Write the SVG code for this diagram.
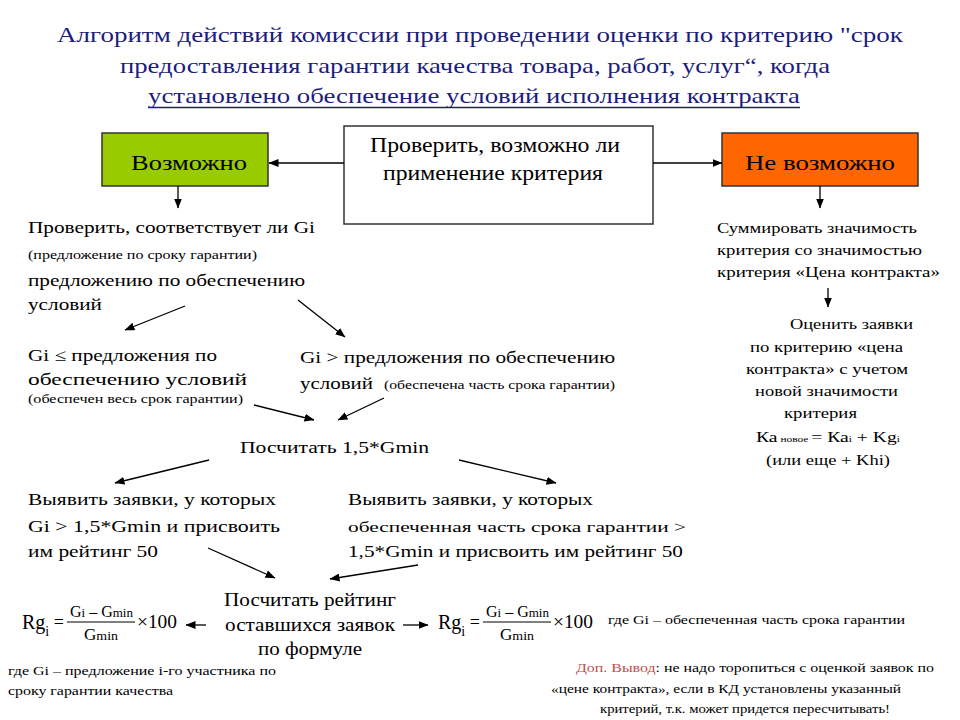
<svg xmlns="http://www.w3.org/2000/svg" width="960" height="720" viewBox="0 0 960 720">
<defs>
<marker id="ah" markerUnits="userSpaceOnUse" markerWidth="10" markerHeight="8" refX="9.5" refY="4" orient="auto">
<path d="M0,0 L10,4 L0,8 z" fill="#000"/>
</marker>
<style>
text{font-family:"Liberation Serif","DejaVu Serif",serif;fill:#000}
.title{font-size:22px;fill:#1c1c7e}
.box{font-size:20px}
.t19{font-size:17px}
.t17{font-size:15.5px}
.t13{font-size:12px}
.t14{font-size:12.5px}
.t15{font-size:13.5px}
.t20{font-size:18px}
.conn line{stroke:#000;stroke-width:1.3;marker-end:url(#ah)}
</style>
</defs>
<rect width="960" height="720" fill="#fff"/>

<g id="title">
<text class="title" x="57" y="42" textLength="846" lengthAdjust="spacingAndGlyphs">Алгоритм действий комиссии при проведении оценки по критерию "срок</text>
<text class="title" x="120" y="73" textLength="710" lengthAdjust="spacingAndGlyphs">предоставления гарантии качества товара, работ, услуг“, когда</text>
<text class="title" x="148" y="103" textLength="652" lengthAdjust="spacingAndGlyphs">установлено обеспечение условий исполнения контракта</text>
<line x1="148" y1="107.5" x2="800" y2="107.5" stroke="#1c1c7e" stroke-width="1.5"/>
</g>

<g id="check">
<rect x="344" y="126" width="309" height="98" fill="#fff" stroke="#333" stroke-width="1.5"/>
<text class="box" x="370" y="152" textLength="250" lengthAdjust="spacingAndGlyphs">Проверить, возможно ли</text>
<text class="box" x="383" y="180" textLength="220" lengthAdjust="spacingAndGlyphs">применение критерия</text>
</g>

<g id="possible">
<rect x="102" y="133" width="166" height="53" fill="#99cc00" stroke="#333" stroke-width="1.5"/>
<text class="box" x="131" y="170" font-size="21" textLength="116" lengthAdjust="spacingAndGlyphs">Возможно</text>
</g>

<g id="impossible">
<rect x="722" y="133" width="196" height="53" fill="#ff6600" stroke="#333" stroke-width="1.5"/>
<text class="box" x="745" y="170" font-size="21" textLength="150" lengthAdjust="spacingAndGlyphs" fill="#2a0a00">Не возможно</text>
</g>

<g id="check-gi">
<text class="t19" x="28" y="233" textLength="287" lengthAdjust="spacingAndGlyphs">Проверить, соответствует ли Gi</text>
<text class="t13" x="28" y="259" textLength="229" lengthAdjust="spacingAndGlyphs">(предложение по сроку гарантии)</text>
<text class="t19" x="28" y="286" textLength="277" lengthAdjust="spacingAndGlyphs">предложению по обеспечению</text>
<text class="t19" x="28" y="310" textLength="74" lengthAdjust="spacingAndGlyphs">условий</text>
</g>

<g id="sum">
<text class="t17" x="717" y="233" textLength="200" lengthAdjust="spacingAndGlyphs">Суммировать значимость</text>
<text class="t17" x="717" y="255" textLength="205" lengthAdjust="spacingAndGlyphs">критерия со значимостью</text>
<text class="t17" x="717" y="277" textLength="223" lengthAdjust="spacingAndGlyphs">критерия «Цена контракта»</text>
</g>

<g id="evaluate">
<text class="t17" x="790" y="329" textLength="123" lengthAdjust="spacingAndGlyphs">Оценить заявки</text>
<text class="t17" x="750" y="352" textLength="153" lengthAdjust="spacingAndGlyphs">по критерию «цена</text>
<text class="t17" x="746" y="374" textLength="162" lengthAdjust="spacingAndGlyphs">контракта» с учетом</text>
<text class="t17" x="755" y="396" textLength="143" lengthAdjust="spacingAndGlyphs">новой значимости</text>
<text class="t17" x="784" y="418" textLength="73" lengthAdjust="spacingAndGlyphs">критерия</text>
<text class="t17" x="756" y="442" textLength="144" lengthAdjust="spacingAndGlyphs">Ка<tspan font-size="9"> новое </tspan>= Ка<tspan font-size="9">i</tspan> + Kg<tspan font-size="9">i</tspan></text>
<text class="t17" x="766" y="465" textLength="124" lengthAdjust="spacingAndGlyphs">(или еще + Khi)</text>
</g>

<g id="gi-le">
<text class="t19" x="28" y="361" textLength="189" lengthAdjust="spacingAndGlyphs">Gi ≤ предложения по</text>
<text class="t19" x="28" y="385" textLength="219" lengthAdjust="spacingAndGlyphs">обеспечению условий</text>
<text class="t13" x="28" y="403" textLength="215" lengthAdjust="spacingAndGlyphs">(обеспечен весь срок гарантии)</text>
</g>

<g id="gi-gt">
<text class="t19" x="300" y="363" textLength="315" lengthAdjust="spacingAndGlyphs">Gi &gt; предложения по обеспечению</text>
<text class="t19" x="300" y="389" textLength="73" lengthAdjust="spacingAndGlyphs">условий</text>
<text class="t13" x="384" y="389" textLength="231" lengthAdjust="spacingAndGlyphs">(обеспечена часть срока гарантии)</text>
</g>

<g id="calc-gmin">
<text class="t19" x="240" y="453" textLength="189" lengthAdjust="spacingAndGlyphs">Посчитать 1,5*Gmin</text>
</g>

<g id="find-left">
<text class="t19" x="28" y="505" textLength="248" lengthAdjust="spacingAndGlyphs">Выявить заявки, у которых</text>
<text class="t19" x="28" y="532" textLength="252" lengthAdjust="spacingAndGlyphs">Gi &gt; 1,5*Gmin и присвоить</text>
<text class="t19" x="28" y="557" textLength="130" lengthAdjust="spacingAndGlyphs">им рейтинг 50</text>
</g>

<g id="find-right">
<text class="t19" x="348" y="505" textLength="245" lengthAdjust="spacingAndGlyphs">Выявить заявки, у которых</text>
<text class="t17" x="348" y="532" textLength="338" lengthAdjust="spacingAndGlyphs">обеспеченная часть срока гарантии &gt;</text>
<text class="t19" x="348" y="557" textLength="335" lengthAdjust="spacingAndGlyphs">1,5*Gmin и присвоить им рейтинг 50</text>
</g>

<g id="calc-rating">
<text class="t20" x="310" y="606" text-anchor="middle" textLength="172" lengthAdjust="spacingAndGlyphs">Посчитать рейтинг</text>
<text class="t20" x="310" y="631" text-anchor="middle" textLength="170" lengthAdjust="spacingAndGlyphs">оставшихся заявок</text>
<text class="t20" x="310" y="655" text-anchor="middle" textLength="104" lengthAdjust="spacingAndGlyphs">по формуле</text>
</g>

<g id="formula-left">
<text x="22" y="629" font-size="20">Rg<tspan dy="7" font-size="14">i</tspan><tspan dy="-8" font-size="18"> =</tspan></text>
<line x1="67" y1="622" x2="135" y2="622" stroke="#000" stroke-width="1"/>
<text x="70" y="617" font-size="16" textLength="63" lengthAdjust="spacingAndGlyphs">G<tspan font-size="13">i</tspan> – G<tspan font-size="13">min</tspan></text>
<text x="84" y="640" font-size="16" textLength="34" lengthAdjust="spacingAndGlyphs">G<tspan font-size="13">min</tspan></text>
<text x="137" y="628" font-size="19" textLength="40" lengthAdjust="spacingAndGlyphs">×100</text>
</g>

<g id="formula-right">
<text x="438" y="629" font-size="20">Rg<tspan dy="7" font-size="14">i</tspan><tspan dy="-8" font-size="18"> =</tspan></text>
<line x1="483" y1="622" x2="551" y2="622" stroke="#000" stroke-width="1"/>
<text x="486" y="617" font-size="16" textLength="63" lengthAdjust="spacingAndGlyphs">G<tspan font-size="13">i</tspan> – G<tspan font-size="13">min</tspan></text>
<text x="500" y="640" font-size="16" textLength="34" lengthAdjust="spacingAndGlyphs">G<tspan font-size="13">min</tspan></text>
<text x="553" y="628" font-size="19" textLength="40" lengthAdjust="spacingAndGlyphs">×100</text>
</g>

<g id="note-right">
<text class="t14" x="608" y="624" textLength="297" lengthAdjust="spacingAndGlyphs">где Gi – обеспеченная часть срока гарантии</text>
</g>

<g id="note-left">
<text class="t14" x="8" y="675" textLength="268" lengthAdjust="spacingAndGlyphs">где Gi – предложение i-го участника по</text>
<text class="t14" x="8" y="695" textLength="165" lengthAdjust="spacingAndGlyphs">сроку гарантии качества</text>
</g>

<g id="conclusion">
<text class="t15" x="576" y="672" textLength="358" lengthAdjust="spacingAndGlyphs"><tspan fill="#c0504d">Доп. Вывод</tspan>: не надо торопиться с оценкой заявок по</text>
<text class="t15" x="551" y="693" textLength="350" lengthAdjust="spacingAndGlyphs">«цене контракта», если в КД установлены указанный</text>
<text class="t15" x="745" y="713" text-anchor="middle" textLength="290" lengthAdjust="spacingAndGlyphs">критерий, т.к. может придется пересчитывать!</text>
</g>

<g id="connectors" class="conn">
<line x1="344" y1="163" x2="269" y2="163"/>
<line x1="653" y1="163" x2="722" y2="163"/>
<line x1="178" y1="186" x2="178" y2="208"/>
<line x1="820" y1="186" x2="820" y2="208"/>
<line x1="828" y1="288" x2="828" y2="307"/>
<line x1="185" y1="306" x2="125" y2="330"/>
<line x1="298" y1="300" x2="345" y2="337"/>
<line x1="254" y1="405" x2="314" y2="420"/>
<line x1="384" y1="398" x2="338" y2="420"/>
<line x1="209" y1="460" x2="115" y2="483"/>
<line x1="459" y1="460" x2="556" y2="483"/>
<line x1="208" y1="548" x2="275" y2="578"/>
<line x1="418" y1="565" x2="330" y2="579"/>
<line x1="206" y1="625" x2="186" y2="625"/>
<line x1="403" y1="625" x2="428" y2="625"/>
</g>
</svg>
